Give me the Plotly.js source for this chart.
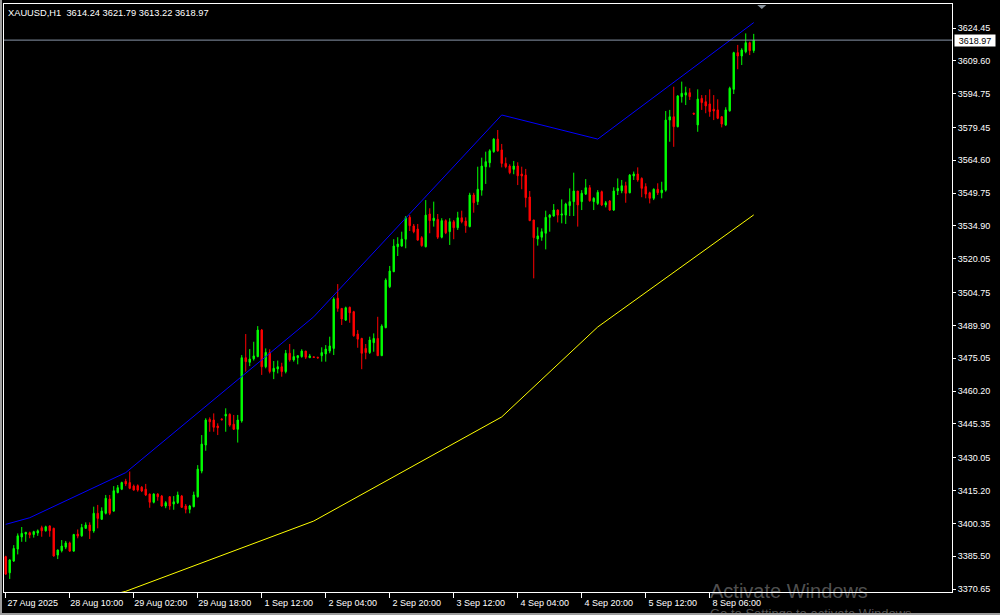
<!DOCTYPE html>
<html>
<head>
<meta charset="utf-8">
<script src="https://cdn.plot.ly/plotly-3.0.1.min.js"></script>
<style>
  html, body { margin: 0; padding: 0; background: #000; overflow: hidden; }
  #chart { width: 1000px; height: 615px; }
  #frame { position: absolute; left: 0; top: 0; width: 1000px; height: 615px; pointer-events: none;
           box-shadow: inset 2px 0 0 #9c9c9c, inset 0 -2px 0 #9c9c9c; }
</style>
</head>
<body>
<div id="chart"></div>
<div id="frame"></div>
<script>
// ---- data (XAUUSD H1) ----
const symbolTitle = "XAUUSD,H1  3614.24 3621.79 3613.22 3618.97";

const opens = [
3385.3,3378.0,3383.3,3388.7,3394.2,3395.5,3396.1,3395.3,3396.0,3398.4,
3397.0,3399.2,3398.1,3386.0,3388.0,3389.6,3391.5,3387.8,3395.5,3394.7,
3398.1,3399.6,3396.9,3404.9,3402.2,3404.9,3411.4,3405.9,3414.3,3415.8,
3419.4,3418.8,3417.2,3417.4,3416.7,3415.8,3413.6,3409.9,3413.6,3412.7,
3408.2,3412.4,3409.1,3409.7,3412.7,3408.2,3406.7,3407.9,3412.4,3424.0,
3435.8,3447.4,3447.1,3444.4,3447.6,3448.9,3449.7,3445.2,3442.9,3446.7,
3475.3,3473.2,3474.8,3475.8,3487.8,3471.2,3477.7,3469.0,3470.2,3471.2,
3469.0,3477.3,3474.3,3475.3,3475.8,3478.3,3475.3,3475.7,3475.5,3476.2,
3477.0,3478.3,3479.5,3502.2,3497.6,3492.3,3498.1,3496.1,3486.0,3484.0,
3479.5,3477.6,3482.1,3484.0,3476.2,3488.9,3507.4,3514.2,3525.5,3525.8,
3528.9,3538.8,3534.9,3533.5,3529.6,3525.5,3540.3,3537.3,3537.9,3529.8,
3537.3,3532.3,3536.8,3534.1,3538.6,3537.1,3534.6,3548.9,3545.9,3551.1,
3561.7,3563.5,3568.5,3574.2,3569.3,3563.2,3562.0,3560.5,3562.0,3558.4,
3557.9,3548.0,3537.6,3529.0,3529.8,3531.6,3538.8,3539.4,3542.1,3539.8,
3539.8,3544.1,3545.9,3550.7,3545.9,3549.3,3552.2,3545.9,3545.1,3550.4,
3544.4,3546.2,3542.1,3550.8,3550.8,3553.1,3549.9,3557.5,3558.4,3556.4,
3552.7,3549.9,3547.4,3551.5,3549.9,3551.1,3582.8,3584.3,3579.8,3593.4,
3594.1,3595.2,3585.9,3580.6,3592.6,3591.1,3590.1,3587.7,3587.4,3584.3,
3580.6,3587.0,3596.7,3613.3,3611.8,3613.7,3617.8,3614.24
];
const highs = [
3385.7,3384.2,3390.5,3395.8,3398.7,3396.5,3396.6,3397.0,3397.6,3399.3,
3399.3,3399.4,3398.4,3388.5,3392.8,3392.4,3392.1,3395.6,3397.6,3400.1,
3400.8,3400.8,3407.9,3408.7,3407.6,3413.2,3413.2,3417.2,3417.7,3419.2,
3420.5,3423.8,3417.9,3418.0,3417.2,3418.2,3413.8,3414.0,3414.0,3413.2,
3410.4,3412.7,3412.7,3414.7,3413.2,3409.1,3408.7,3414.7,3426.7,3440.3,
3447.9,3448.3,3450.1,3445.6,3447.8,3452.4,3450.1,3449.4,3449.4,3476.5,
3486.0,3479.2,3482.5,3489.6,3488.3,3479.5,3479.1,3473.8,3474.0,3473.0,
3478.8,3481.5,3479.1,3476.5,3479.1,3478.3,3477.0,3475.9,3475.7,3480.0,
3481.0,3484.8,3502.6,3508.6,3497.6,3498.4,3498.4,3496.5,3487.8,3484.3,
3481.5,3484.8,3486.3,3493.8,3490.4,3511.2,3516.8,3528.9,3529.8,3532.3,
3539.4,3539.8,3535.8,3535.8,3530.3,3546.6,3542.9,3545.9,3540.3,3538.4,
3537.9,3538.4,3537.6,3541.3,3541.8,3538.8,3549.9,3549.9,3561.7,3565.8,
3568.5,3569.6,3574.6,3578.3,3572.0,3565.9,3562.8,3564.3,3563.7,3561.7,
3560.7,3550.7,3537.6,3534.3,3533.8,3541.8,3540.3,3544.8,3542.4,3546.9,
3545.4,3551.9,3559.0,3550.7,3551.1,3556.1,3553.4,3547.9,3551.1,3550.9,
3546.2,3546.6,3552.4,3556.4,3555.7,3554.9,3558.4,3559.5,3561.4,3556.9,
3554.2,3550.4,3551.9,3554.2,3554.9,3586.9,3587.4,3597.9,3594.1,3600.2,
3597.9,3597.2,3586.1,3596.7,3594.1,3594.1,3596.7,3594.1,3592.2,3584.6,
3588.6,3597.9,3613.7,3616.8,3615.3,3622.0,3618.3,3621.79
];
const lows = [
3377.0,3375.2,3382.9,3386.3,3392.0,3392.0,3393.6,3393.9,3394.7,3394.3,
3396.6,3394.3,3385.3,3384.2,3387.2,3388.7,3387.5,3387.5,3393.6,3394.3,
3398.0,3393.3,3396.1,3398.1,3401.9,3404.4,3404.1,3405.6,3413.9,3415.4,
3417.2,3415.8,3415.2,3414.7,3414.5,3412.7,3407.4,3409.4,3410.6,3407.9,
3407.2,3406.5,3406.5,3409.1,3407.4,3404.9,3404.9,3407.6,3412.0,3423.0,
3433.2,3441.8,3441.8,3440.3,3447.0,3441.8,3444.1,3442.6,3436.9,3445.9,
3469.0,3471.5,3474.0,3475.5,3467.5,3470.5,3468.2,3465.6,3468.2,3466.7,
3468.2,3473.5,3473.5,3472.3,3475.3,3474.7,3475.3,3475.2,3475.0,3473.5,
3473.5,3477.3,3476.5,3496.1,3490.1,3491.9,3491.1,3484.8,3479.8,3470.1,
3474.6,3477.0,3478.0,3476.1,3476.1,3488.6,3506.8,3514.0,3521.3,3525.5,
3524.8,3532.6,3531.6,3528.2,3525.5,3525.2,3531.6,3534.6,3529.0,3529.3,
3531.2,3526.3,3528.9,3533.1,3536.1,3531.8,3534.3,3540.9,3544.4,3548.6,
3553.9,3561.4,3568.0,3568.5,3561.4,3561.0,3558.3,3558.3,3553.4,3551.5,
3543.3,3537.1,3511.2,3526.0,3528.2,3524.3,3532.3,3539.1,3536.5,3536.1,
3535.8,3539.4,3539.4,3534.6,3542.1,3548.9,3545.9,3542.1,3544.4,3543.9,
3543.3,3541.7,3541.7,3548.9,3549.7,3545.4,3549.7,3555.7,3554.9,3547.9,
3547.4,3545.1,3546.6,3548.9,3547.4,3550.4,3573.0,3570.7,3579.5,3590.7,
3589.6,3591.9,3585.3,3577.5,3587.4,3585.9,3584.3,3582.8,3583.2,3579.5,
3580.1,3586.6,3594.6,3605.8,3607.7,3613.0,3612.2,3613.22
];
const closes = [
3377.4,3383.8,3389.0,3394.7,3395.8,3396.3,3395.1,3396.6,3397.0,3397.0,
3398.8,3397.0,3385.6,3388.3,3390.1,3391.5,3387.8,3395.3,3394.6,3398.5,
3399.6,3397.0,3404.9,3402.6,3405.9,3411.7,3404.9,3415.1,3416.5,3418.8,
3418.2,3416.2,3415.4,3415.4,3415.0,3413.2,3409.9,3413.6,3412.4,3408.2,
3409.7,3408.2,3410.1,3413.2,3407.6,3406.7,3408.2,3413.2,3424.9,3436.2,
3447.1,3446.3,3443.8,3443.6,3447.2,3449.7,3444.8,3442.9,3447.1,3475.3,
3473.5,3474.7,3476.1,3487.8,3471.2,3477.7,3469.0,3470.5,3471.2,3469.0,
3477.3,3474.3,3475.8,3476.2,3478.3,3475.5,3476.1,3475.4,3475.2,3477.6,
3479.2,3480.6,3501.8,3497.6,3492.8,3497.9,3495.6,3485.2,3483.7,3477.3,
3477.6,3483.3,3484.0,3476.2,3489.6,3510.4,3514.5,3525.8,3526.7,3528.9,
3538.6,3535.0,3532.3,3528.5,3526.0,3539.8,3537.3,3538.4,3529.8,3537.3,
3531.8,3536.8,3534.1,3538.6,3536.8,3535.0,3548.9,3545.4,3551.5,3562.0,
3564.0,3568.9,3574.2,3568.9,3563.2,3561.7,3559.0,3562.0,3557.6,3557.5,
3547.7,3537.3,3529.6,3530.4,3532.3,3538.8,3539.8,3542.1,3539.8,3540.3,
3544.8,3545.9,3550.7,3544.4,3549.7,3552.2,3546.3,3547.4,3550.1,3544.4,
3545.4,3542.1,3550.7,3551.9,3553.1,3549.7,3557.9,3558.4,3555.7,3551.9,
3549.3,3547.4,3551.5,3549.9,3551.1,3582.8,3584.3,3579.8,3593.7,3594.9,
3595.2,3593.4,3585.5,3592.3,3590.7,3589.2,3586.6,3586.9,3583.6,3581.0,
3587.4,3597.2,3613.3,3611.8,3614.5,3617.8,3614.2,3618.97
];

// indicator lines (bar index -> price at each vertex)
const blueBars   = [0, 6, 30, 77, 124, 148, 187];
const blueValues = [3399.9, 3402.9, 3423.3, 3493.8, 3585.1, 3574.2, 3626.9];
const yellowBars   = [0, 6, 30, 77, 124, 148, 187];
const yellowValues = [3356.0, 3359.0, 3369.6, 3401.4, 3448.5, 3489.2, 3539.9];

// axis ticks
const xTickBars   = [0, 16, 32, 48, 64, 80, 96, 112, 128, 144, 160, 176];
const xTickLabels = ["27 Aug 2025", "28 Aug 10:00", "29 Aug 02:00", "29 Aug 18:00",
                     "1 Sep 12:00", "2 Sep 04:00", "2 Sep 20:00", "3 Sep 12:00",
                     "4 Sep 04:00", "4 Sep 20:00", "5 Sep 12:00", "8 Sep 06:00"];
const yTickValues = [3624.45, 3609.60, 3594.75, 3579.45, 3564.60, 3549.75, 3534.90,
                     3520.05, 3504.75, 3489.90, 3475.05, 3460.20, 3445.35, 3430.05,
                     3415.20, 3400.35, 3385.50, 3370.65];

// ---- chart ----
const barIndex = opens.map((_, i) => i);
const lastClose = closes[closes.length - 1];
const FONT = "Liberation Sans, Arial, sans-serif";

const traces = [
  {
    type: "scatter", mode: "lines", x: yellowBars, y: yellowValues,
    line: { color: "#ffff00", width: 1 }, hoverinfo: "skip"
  },
  {
    type: "scatter", mode: "lines", x: blueBars, y: blueValues,
    line: { color: "#0000ff", width: 1 }, hoverinfo: "skip"
  },
  {
    type: "candlestick", x: barIndex, open: opens, high: highs, low: lows, close: closes,
    increasing: { line: { color: "#00ff00", width: 1 }, fillcolor: "#00ff00" },
    decreasing: { line: { color: "#ff0000", width: 1 }, fillcolor: "#ff0000" },
    whiskerwidth: 0, hoverinfo: "skip"
  }
];

const layout = {
  width: 1000, height: 615,
  margin: { l: 4, r: 48, t: 4, b: 23, pad: 0 },
  paper_bgcolor: "rgba(0,0,0,0)", plot_bgcolor: "#000000",
  showlegend: false,
  boxgap: 0.5,
  font: { family: FONT, color: "#ffffff", size: 9 },
  title: {
    text: symbolTitle, xref: "container", yref: "container",
    x: 0.008, xanchor: "left", y: 0.979, yanchor: "middle",
    font: { family: FONT, color: "#ffffff", size: 9.3 }
  },
  xaxis: {
    range: [-0.43, 236.57], fixedrange: true,
    rangeslider: { visible: false },
    tickmode: "array", tickvals: xTickBars, ticktext: xTickLabels,
    ticks: "outside", ticklen: 5, tickcolor: "#ffffff", tickwidth: 1,
    ticklabelshift: 27, ticklabelstandoff: -3,
    tickfont: { family: FONT, color: "#ffffff", size: 9 },
    showgrid: false, zeroline: false,
    showline: true, mirror: true, linecolor: "#ffffff", linewidth: 1
  },
  yaxis: {
    side: "right", range: [3369.30, 3635.31], fixedrange: true,
    tickmode: "array", tickvals: yTickValues, ticktext: yTickValues.map(v => v.toFixed(2)),
    ticks: "outside", ticklen: 3, tickcolor: "#ffffff", tickwidth: 1,
    tickfont: { family: FONT, color: "#ffffff", size: 9 },
    showgrid: false, zeroline: false,
    showline: true, mirror: true, linecolor: "#ffffff", linewidth: 1
  },
  shapes: [
    { type: "line", xref: "paper", yref: "y", x0: 0, x1: 1, y0: lastClose, y1: lastClose,
      line: { color: "#8896a8", width: 1 }, layer: "above" },
    { type: "path", xref: "paper", yref: "paper",
      path: "M 0.7946 0.9983 L 0.8041 0.9983 L 0.7994 0.9915 Z",
      fillcolor: "#8a949e", line: { width: 0 } }
  ],
  annotations: [
    { xref: "paper", yref: "y", x: 1, y: lastClose, xanchor: "left", yanchor: "middle",
      xshift: 2, text: lastClose.toFixed(2), showarrow: false,
      bgcolor: "#ffffff", font: { family: FONT, color: "#000000", size: 9 },
      width: 38, height: 9, borderpad: 1 },
    { xref: "paper", yref: "paper", x: 0.7426, y: 0.0017, xanchor: "left", yanchor: "middle",
      text: "Activate Windows", showarrow: false,
      font: { family: FONT, color: "rgba(255,255,255,0.33)", size: 20 } },
    { xref: "paper", yref: "paper", x: 0.7426, y: -0.036, xanchor: "left", yanchor: "middle",
      text: "Go to Settings to activate Windows.", showarrow: false,
      font: { family: FONT, color: "rgba(255,255,255,0.33)", size: 13 } }
  ]
};

Plotly.newPlot("chart", traces, layout, { staticPlot: true, displayModeBar: false });
</script>
</body>
</html>
